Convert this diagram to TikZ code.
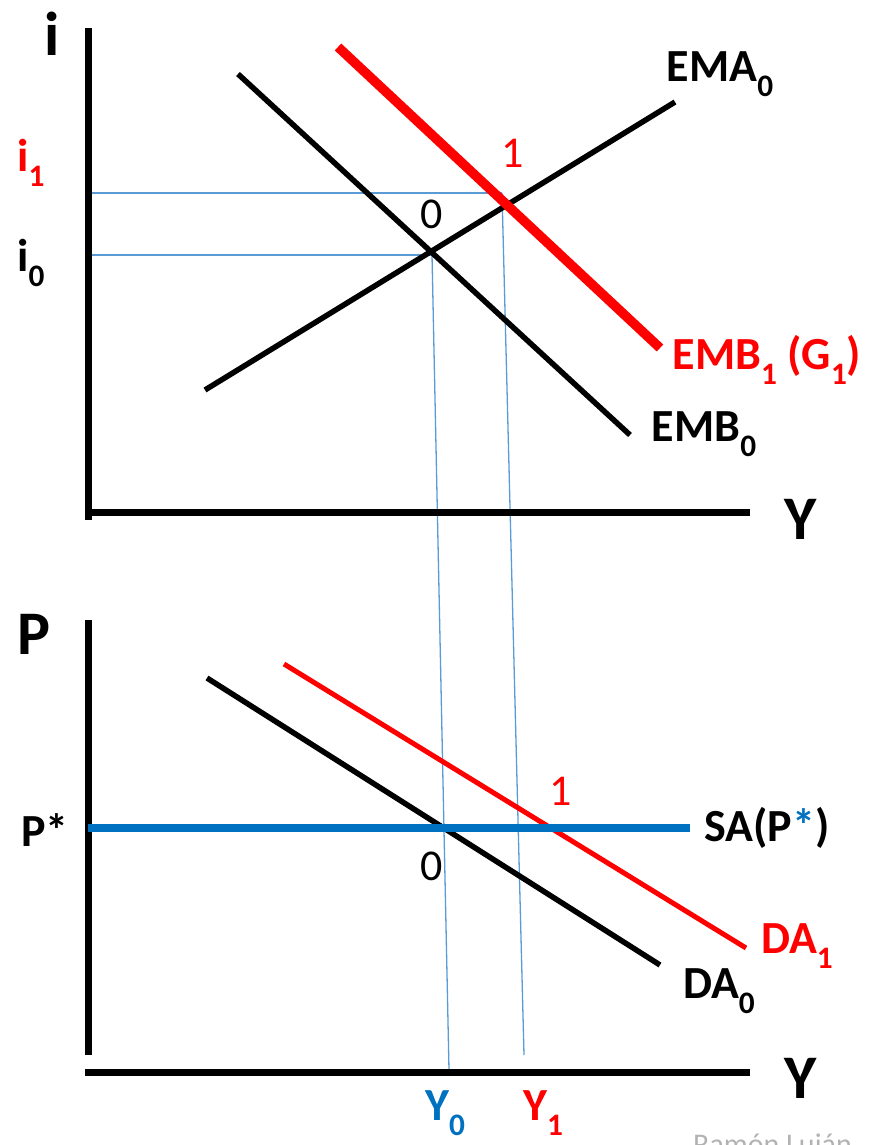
\documentclass[tikz,border=0pt]{standalone}
\usepackage{fontspec}
\setmainfont{Carlito}
\definecolor{myred}{HTML}{FF0000}
\definecolor{myblue}{HTML}{0070C0}
\definecolor{thinblue}{HTML}{5B9BD5}
\newcommand\lsub[1]{\raisebox{-0.32em}{\scalebox{0.68}{#1}}}
\begin{document}
\begin{tikzpicture}[x=1pt,y=-1pt,
  axisline/.style={line width=7pt,black},
  curve/.style={line width=5.5pt,black},
  guide/.style={line width=1.3pt,thinblue},
  lbl/.style={font=\bfseries\fontsize{46}{50}\selectfont,inner sep=0pt},
  biglbl/.style={font=\bfseries\fontsize{62}{66}\selectfont,inner sep=0pt},
  num/.style={font=\fontsize{44}{48}\selectfont,inner sep=0pt}]
\useasboundingbox (0,0) rectangle (872,1145);
% ---------- top panel ----------
\coordinate (iTop) at (88,28);
\coordinate (iBot) at (88,520);
\coordinate (yL) at (85,512);
\coordinate (yR) at (750,512);
\coordinate (emaA) at (205,390);
\coordinate (emaB) at (675,102);
\coordinate (embA) at (238,74);
\coordinate (embB) at (630,435);
\coordinate (emb1A) at (338,47);
\coordinate (emb1B) at (660,348);
\coordinate (E0) at (432,255);
\coordinate (E1) at (502,193);
\coordinate (i0ax) at (88,255);
\coordinate (i1ax) at (88,193);
% guides
\draw[guide] (i1ax) -- (E1);
\draw[guide] (i0ax) -- (E0);
\coordinate (Y0ax) at (449,1070);
\coordinate (Y1ax) at (524,1055);
\draw[guide] (E0) -- (Y0ax);
\draw[guide] (E1) -- (Y1ax);
% axes
\draw[axisline] (iTop) -- (iBot);
\draw[axisline] (yL) -- (yR);
% curves
\draw[curve] (emaA) -- (emaB);
\draw[curve] (embA) -- (embB);
\draw[line width=9.5pt,myred] (emb1A) -- (emb1B);
% labels
\node[biglbl] (ilab) at (52,34) {i};
\node[lbl,myred] (i1lab) at (31,163) {i\lsub{1}};
\node[lbl] (i0lab) at (31,263) {i\lsub{0}};
\node[lbl] (emalab) at (720,74) {EMA\lsub{0}};
\node[num,myred] (one1) at (513,153) {1};
\node[num] (zero1) at (432,214) {0};
\node[lbl,myred] (emb1lab) at (767,360) {EMB\lsub{1} (G\lsub{1})};
\node[lbl] (emb0lab) at (704,434) {EMB\lsub{0}};
\node[biglbl] (Ytop) at (801,519) {Y};
% ---------- bottom panel ----------
\coordinate (pTop) at (88,620);
\coordinate (pBot) at (88,1055);
\coordinate (yL2) at (85,1072);
\coordinate (yR2) at (750,1072);
\coordinate (saA) at (88,828);
\coordinate (saB) at (690,828);
\coordinate (da0A) at (207,678);
\coordinate (da0B) at (660,965);
\coordinate (da1A) at (284,664);
\coordinate (da1B) at (746,948);
\draw[axisline] (pTop) -- (pBot);
\draw[axisline] (yL2) -- (yR2);
\draw[curve] (da0A) -- (da0B);
\draw[line width=5pt,myred] (da1A) -- (da1B);
\draw[line width=8pt,myblue] (saA) -- (saB);
\node[biglbl] (Plab) at (34,634) {P};
\node[lbl] (Pstar) at (45,830) {P*};
\node[lbl] (salab) at (767,828) {SA(P{\color{myblue}*})};
\node[num,myred] (one2) at (561,791) {1};
\node[num] (zero2) at (432,866) {0};
\node[lbl,myred] (da1lab) at (797,946) {DA\lsub{1}};
\node[lbl] (da0lab) at (719,991) {DA\lsub{0}};
\node[biglbl] (Ybot) at (801,1078) {Y};
\node[lbl,myblue] (Y0lab) at (445,1113) {Y\lsub{0}};
\node[lbl,myred] (Y1lab) at (543,1113) {Y\lsub{1}};
\node[font=\fontsize{30}{34}\selectfont,gray!60,anchor=north west,inner sep=0pt] (wm) at (693,1134) {Ramón Luján};
\end{tikzpicture}
\end{document}
